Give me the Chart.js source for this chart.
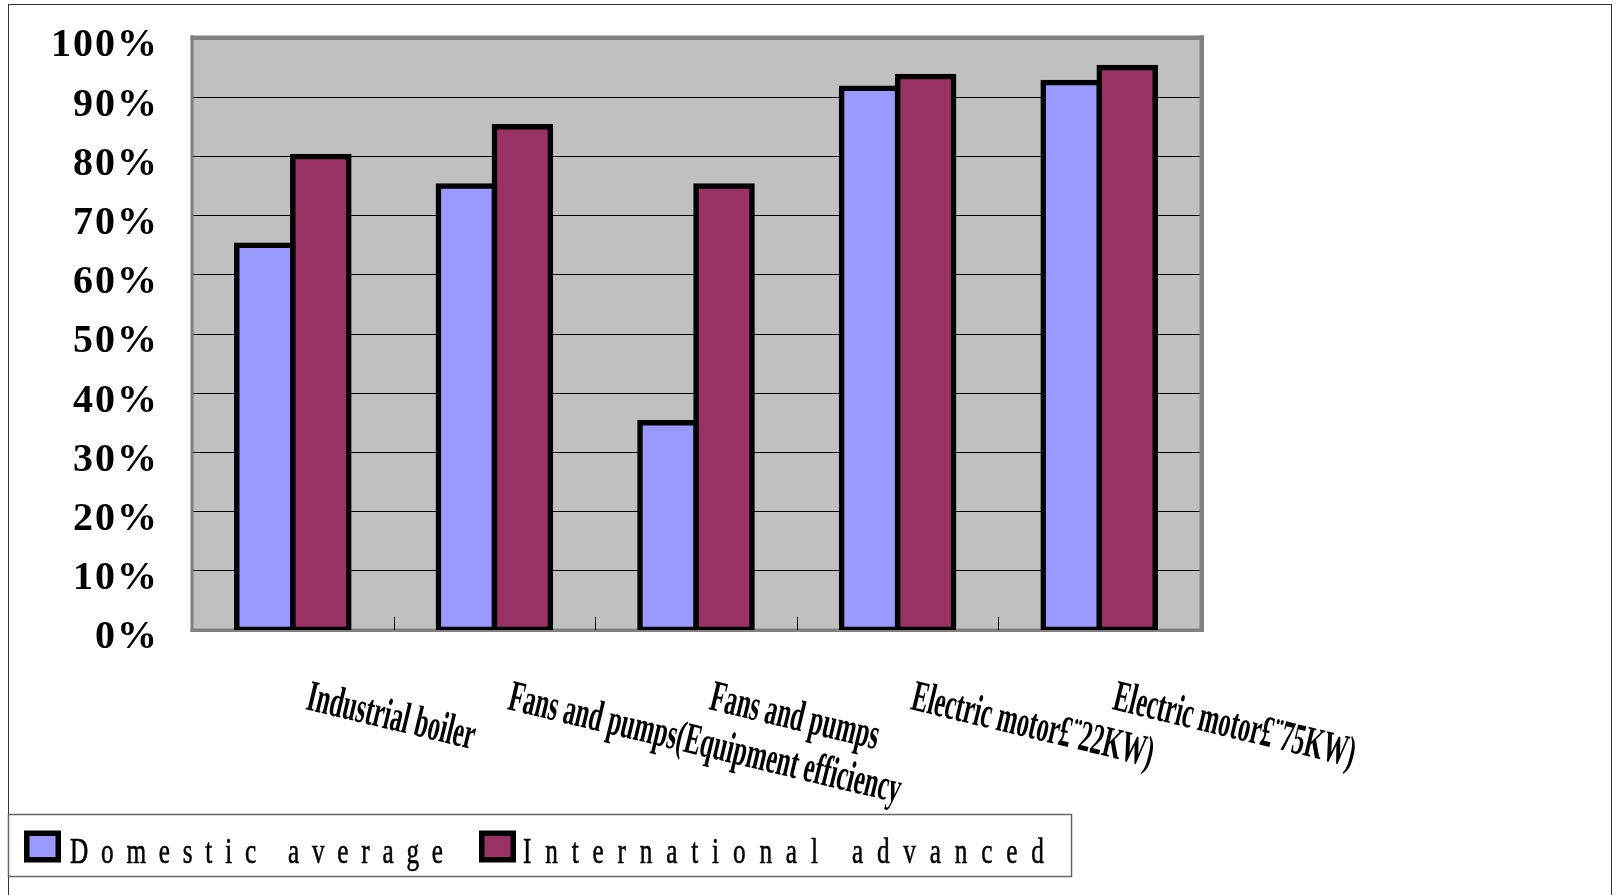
<!DOCTYPE html>
<html>
<head>
<meta charset="utf-8">
<script src="https://cdn.jsdelivr.net/npm/chart.js@4.4.1/dist/chart.umd.min.js"></script>
<style>
  html, body { margin: 0; padding: 0; background: #fff; }
  body { width: 1617px; height: 895px; overflow: hidden; position: relative; }
  #frame { position: absolute; left: 8px; top: 4px; width: 1604px; height: 900px; border: 1.5px solid #333; box-sizing: border-box; }
  #chart { position: absolute; left: 0; top: 0; }
</style>
</head>
<body>
<div id="frame"></div>
<canvas id="chart" width="1617" height="895"></canvas>
<script>
// values, in percent
const categories = ['Industrial boiler', 'Fans and pumps(Equipment efficiency', 'Fans and pumps', 'Electric motor£¨22KW)', 'Electric motor£¨75KW)'];
const domesticAverage = [65, 75, 35, 91.5, 92.5];
const internationalAdvanced = [80, 85, 75, 93.5, 95];
const yTicks = [0, 10, 20, 30, 40, 50, 60, 70, 80, 90, 100];
const seriesNames = ['Domestic average', 'International advanced'];
const seriesColors = ['#9999FF', '#993366'];

// gray plot box, frame, category ticks, slanted labels and boxed legend
const excelLook = {
    id: 'excelLook',
    beforeDraw(chart) {
        const { ctx, chartArea: a } = chart;
        ctx.save();
        ctx.fillStyle = '#C0C0C0';
        ctx.fillRect(a.left, a.top, a.right - a.left, a.bottom - a.top);
        ctx.restore();
        ctx.letterSpacing = '2px'; // y tick labels are a bit spaced out
    },
    beforeDatasetsDraw(chart) {
        const { ctx, chartArea: a, scales: { x } } = chart;
        ctx.save();
        ctx.letterSpacing = '0px';
        ctx.fillStyle = '#808080';
        ctx.fillRect(a.left - 1.5, a.top - 2.5, a.right - a.left + 5, 4.5);
        ctx.fillRect(a.right - 0.5, a.top - 2.5, 4.5, a.bottom - a.top + 4.5);
        ctx.fillRect(a.left - 1.5, a.top - 2.5, 3, a.bottom - a.top + 4.5);
        ctx.fillRect(a.left - 1.5, a.bottom - 1.5, a.right - a.left + 5, 3.5);
        ctx.strokeStyle = '#000';
        ctx.lineWidth = 1;
        for (let i = 0; i < categories.length - 1; i++) {
            const px = Math.round((x.getPixelForValue(i) + x.getPixelForValue(i + 1)) / 2) + 0.5;
            ctx.beginPath();
            ctx.moveTo(px, a.bottom - 13);
            ctx.lineTo(px, a.bottom);
            ctx.stroke();
        }
        ctx.restore();
    },
    afterDraw(chart) {
        const { ctx, scales: { x } } = chart;
        ctx.letterSpacing = '0px';
        ctx.save();
        ctx.fillStyle = '#000';
        ctx.textAlign = 'left';
        ctx.textBaseline = 'alphabetic';
        ctx.font = 'bold 44px "Liberation Serif"';
        categories.forEach((label, i) => {
            ctx.save();
            ctx.translate(x.getPixelForValue(i) + 12, 709);
            ctx.rotate(13.5 * Math.PI / 180);
            ctx.scale(0.555, 1);
            ctx.fillText(label, 0, 0);
            ctx.restore();
        });

        // legend
        ctx.strokeStyle = '#666';
        ctx.lineWidth = 1.5;
        ctx.strokeRect(8.5, 814.5, 1063, 62);
        const boxX = [24, 479];
        const textX = [70, 523];
        const textW = [373, 521];
        const sx = 0.7;
        ctx.font = '36px "Liberation Serif"';
        seriesNames.forEach((name, i) => {
            ctx.fillStyle = '#000';
            ctx.fillRect(boxX[i], 830.5, 37, 32);
            ctx.fillStyle = seriesColors[i];
            ctx.fillRect(boxX[i] + 5.5, 836, 26, 21);
            ctx.letterSpacing = '0px';
            const natural = ctx.measureText(name).width;
            ctx.letterSpacing = ((textW[i] / sx - natural) / (name.length - 1)).toFixed(2) + 'px';
            ctx.save();
            ctx.fillStyle = '#000';
            ctx.strokeStyle = '#000';
            ctx.lineWidth = 0.6;
            ctx.translate(textX[i], 863);
            ctx.scale(sx, 1);
            ctx.fillText(name, 0, 0);
            ctx.strokeText(name, 0, 0);
            ctx.restore();
        });
        ctx.letterSpacing = '0px';
        ctx.restore();
    }
};

const barStyle = {
    borderColor: '#000',
    borderWidth: 5.5,
    borderSkipped: false,
    inflateAmount: 2.75,
    categoryPercentage: 0.556,
    barPercentage: 1
};

const ctx = document.getElementById('chart').getContext('2d');
const chart = new Chart(ctx, {
    type: 'bar',
    data: {
        labels: categories,
        datasets: [
            { label: seriesNames[0], data: domesticAverage, backgroundColor: seriesColors[0], ...barStyle },
            { label: seriesNames[1], data: internationalAdvanced, backgroundColor: seriesColors[1], ...barStyle }
        ]
    },
    options: {
        responsive: false,
        animation: false,
        devicePixelRatio: 1,
        layout: { padding: { top: 38, right: 417, bottom: 0, left: 0 } },
        plugins: {
            legend: { display: false },
            tooltip: { enabled: false }
        },
        scales: {
            x: {
                afterFit: s => { s.height = 265; s.paddingLeft = 0; s.paddingRight = 0; },
                grid: { display: false },
                border: { display: false },
                ticks: { display: false }
            },
            y: {
                min: 0,
                max: 100,
                afterFit: s => { s.width = 192; s.paddingTop = 0; s.paddingBottom = 0; },
                afterBuildTicks: s => { s.ticks = yTicks.map(v => ({ value: v })); },
                grid: { color: '#000', lineWidth: 1, drawTicks: false },
                border: { display: false },
                ticks: {
                    color: '#000',
                    padding: 33,
                    labelOffset: 8,
                    font: { family: 'Liberation Serif', size: 40, weight: 'bold' },
                    callback: v => v + '%'
                }
            }
        }
    },
    plugins: [excelLook]
});
</script>
</body>
</html>
